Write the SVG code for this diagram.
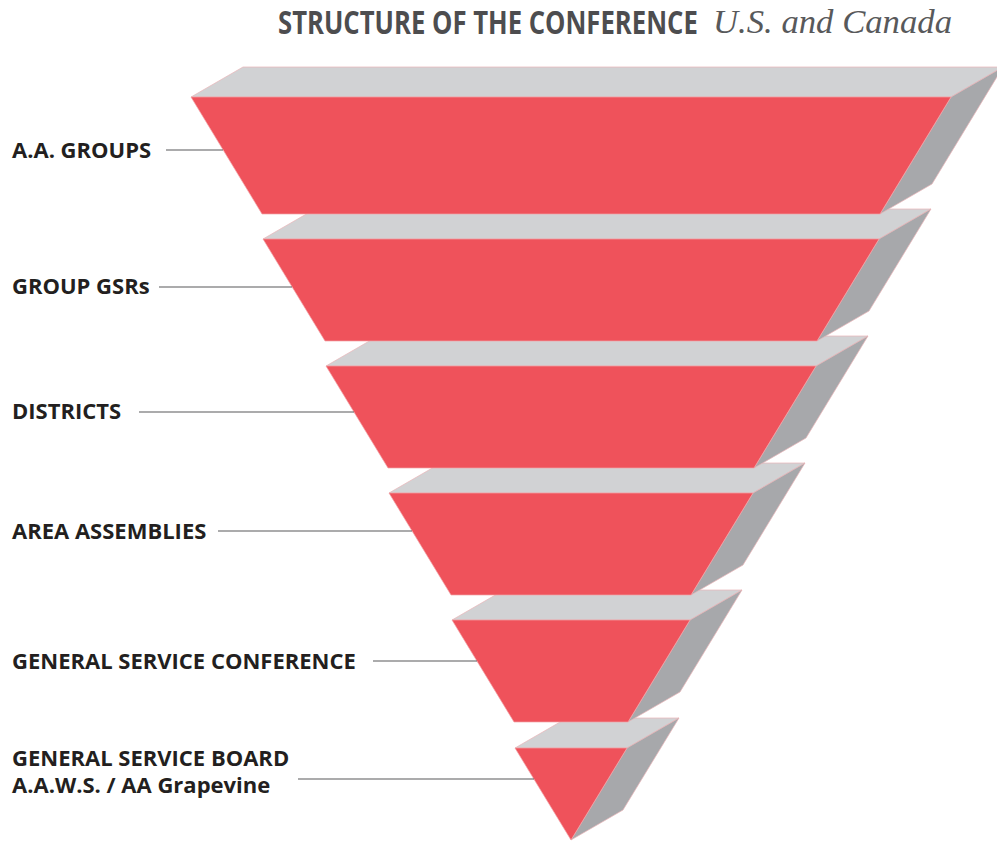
<svg xmlns="http://www.w3.org/2000/svg" width="997" height="841" viewBox="0 0 997 841">
<style>
.front{fill:#EF525B;stroke:#F2A3A8;stroke-width:0.7}
.top{fill:#D1D2D4;stroke:#E9B5B8;stroke-width:0.7}
.side{fill:#A7A8AB;stroke:#E9B5B8;stroke-width:0.7}
.lbl{font-family:"Open Sans","Noto Sans","Liberation Sans",sans-serif;font-weight:700;font-size:22px;fill:#231F20}
.lead{stroke:#58595B;stroke-width:1.2;fill:none}
</style>
<rect width="997" height="841" fill="#FFFFFF"/>
<g id="title">
<text transform="translate(278,34) scale(0.72,1)" x="0" y="0" font-family="'Open Sans','Liberation Sans',sans-serif" font-weight="700" font-size="33" fill="#4D4D4F" textLength="583" lengthAdjust="spacingAndGlyphs">STRUCTURE OF THE CONFERENCE</text>
<text x="713" y="33" font-family="'Liberation Serif','DejaVu Serif',serif" font-style="italic" font-size="33" fill="#58595B" textLength="239" lengthAdjust="spacingAndGlyphs">U.S. and Canada</text>
</g>
<g id="slab6">
<polygon class="top" points="515,748 567,718 679,718 627,748"/>
<polygon class="side" points="627,748 679,718 623,810 571,840"/>
<polygon class="front" points="515,748 627,748 571,840"/>
</g>
<g id="slab5">
<polygon class="top" points="452,620 504,590 742,590 690,620"/>
<polygon class="side" points="690,620 742,590 680,692 628,722"/>
<polygon class="front" points="452,620 690,620 628,722 514,722"/>
</g>
<g id="slab4">
<polygon class="top" points="389,493 441,463 805,463 753,493"/>
<polygon class="side" points="753,493 805,463 743,565 691,595"/>
<polygon class="front" points="389,493 753,493 691,595 451,595"/>
</g>
<g id="slab3">
<polygon class="top" points="326,366 378,336 868,336 816,366"/>
<polygon class="side" points="816,366 868,336 806,438 754,468"/>
<polygon class="front" points="326,366 816,366 754,468 388,468"/>
</g>
<g id="slab2">
<polygon class="top" points="263,239 315,209 931,209 879,239"/>
<polygon class="side" points="879,239 931,209 869,311 817,341"/>
<polygon class="front" points="263,239 879,239 817,341 325,341"/>
</g>
<g id="slab1">
<polygon class="top" points="191,97 243,67 1003,67 951,97"/>
<polygon class="side" points="951,97 1003,67 932,184 880,214"/>
<polygon class="front" points="191,97 951,97 880,214 262,214"/>
</g>
<g id="connectors">
<line class="lead" x1="166" y1="150" x2="223" y2="150"/>
<line class="lead" x1="159" y1="287" x2="292" y2="287"/>
<line class="lead" x1="139" y1="412" x2="354" y2="412"/>
<line class="lead" x1="218" y1="531" x2="412" y2="531"/>
<line class="lead" x1="373" y1="661" x2="477" y2="661"/>
<line class="lead" x1="298" y1="779" x2="534" y2="779"/>
</g>
<g id="label-groups"><text class="lbl" x="12" y="158">A.A. GROUPS</text></g>
<g id="label-gsrs"><text class="lbl" x="12" y="294">GROUP GSRs</text></g>
<g id="label-districts"><text class="lbl" x="12" y="419">DISTRICTS</text></g>
<g id="label-assemblies"><text class="lbl" x="12" y="539">AREA ASSEMBLIES</text></g>
<g id="label-conference"><text class="lbl" x="12" y="669">GENERAL SERVICE CONFERENCE</text></g>
<g id="label-board"><text class="lbl" x="12" y="766" font-size="21">GENERAL SERVICE BOARD<tspan x="12" dy="27">A.A.W.S. / AA Grapevine</tspan></text></g>
</svg>
